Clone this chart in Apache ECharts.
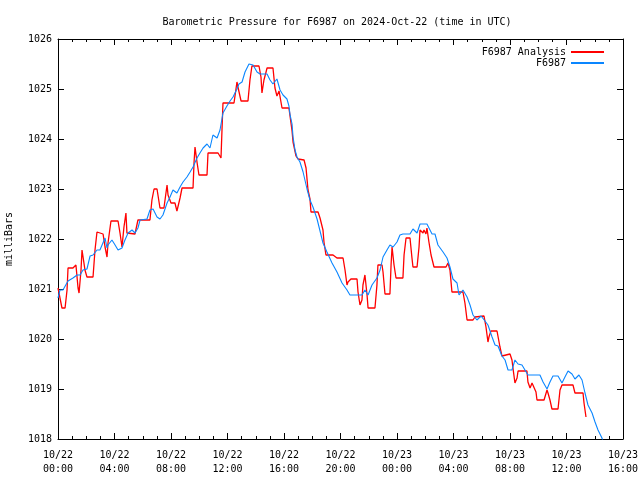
<!DOCTYPE html>
<html><head><meta charset="utf-8">
<script src="https://cdn.jsdelivr.net/npm/echarts@6/dist/echarts.min.js"></script>
<style>html,body{margin:0;padding:0;background:#fff}#c{width:640px;height:480px}</style>
</head><body><div id="c"></div>
<script>
// hours since 2024-10-22 00:00 UTC
const analysisHours = [0.00,0.14,0.28,0.50,0.64,0.71,1.06,1.27,1.35,1.42,1.49,1.63,1.70,1.77,1.91,2.05,2.48,2.62,2.76,3.19,3.33,3.47,3.54,3.75,4.25,4.39,4.53,4.67,4.81,4.88,5.45,5.66,6.51,6.65,6.80,7.01,7.22,7.50,7.72,7.79,8.00,8.28,8.42,8.64,8.78,9.56,9.63,9.70,9.84,9.98,10.55,10.62,11.33,11.54,11.61,11.68,12.46,12.67,12.74,12.96,13.45,13.59,13.73,14.23,14.37,14.44,14.58,14.73,14.80,15.22,15.36,15.50,15.65,15.79,15.86,16.35,16.57,16.64,16.85,16.99,17.42,17.56,17.70,17.84,17.91,18.41,18.55,18.76,18.83,18.97,19.47,19.75,20.18,20.32,20.46,20.53,20.74,21.17,21.24,21.38,21.52,21.59,21.73,21.88,21.95,22.44,22.58,22.65,22.94,23.01,23.15,23.50,23.58,23.65,23.79,23.93,24.42,24.50,24.64,24.92,25.06,25.13,25.42,25.56,25.63,25.84,25.91,26.05,26.12,26.26,26.41,26.62,27.47,27.61,27.75,27.89,28.32,28.46,28.67,28.81,28.96,29.38,29.52,30.16,30.30,30.44,30.51,30.65,31.08,31.15,31.29,31.43,32.00,32.14,32.21,32.35,32.50,32.57,33.20,33.27,33.42,33.56,33.70,33.84,33.91,34.41,34.62,34.69,34.83,34.97,35.40,35.54,35.68,36.46,36.60,37.17,37.24,37.38];
const analysisMb = [1021.02,1020.98,1020.62,1020.62,1020.98,1021.42,1021.42,1021.48,1021.48,1021.02,1020.92,1021.38,1021.78,1021.78,1021.38,1021.24,1021.24,1021.78,1022.14,1022.10,1021.84,1021.64,1021.92,1022.36,1022.36,1022.12,1021.84,1022.24,1022.52,1022.12,1022.10,1022.38,1022.38,1022.78,1023.00,1023.00,1022.62,1022.62,1023.08,1022.88,1022.72,1022.72,1022.56,1022.82,1023.02,1023.02,1023.52,1023.84,1023.54,1023.28,1023.28,1023.72,1023.72,1023.62,1024.18,1024.72,1024.72,1025.14,1025.04,1024.76,1024.76,1025.18,1025.46,1025.46,1025.24,1024.92,1025.18,1025.34,1025.42,1025.42,1025.02,1024.86,1024.96,1024.94,1024.62,1024.62,1024.16,1023.94,1023.66,1023.60,1023.58,1023.42,1022.98,1022.80,1022.54,1022.54,1022.42,1022.18,1021.94,1021.68,1021.68,1021.62,1021.62,1021.38,1021.08,1021.14,1021.20,1021.20,1020.94,1020.68,1020.78,1021.08,1021.28,1020.88,1020.62,1020.62,1021.08,1021.48,1021.48,1021.34,1020.90,1020.90,1021.48,1021.84,1021.48,1021.22,1021.22,1021.68,1022.02,1022.02,1021.62,1021.44,1021.44,1021.84,1022.18,1022.12,1022.18,1022.10,1022.22,1021.94,1021.68,1021.44,1021.44,1021.52,1021.38,1020.94,1020.94,1020.96,1020.94,1020.72,1020.38,1020.38,1020.44,1020.46,1020.24,1019.94,1020.04,1020.16,1020.16,1020.12,1019.84,1019.66,1019.70,1019.58,1019.42,1019.12,1019.22,1019.36,1019.36,1019.14,1019.02,1019.12,1019.12,1018.94,1018.78,1018.78,1018.98,1018.92,1018.78,1018.60,1018.60,1018.98,1019.08,1019.08,1018.92,1018.92,1018.72,1018.44];
const stationHours = [0.00,0.14,0.35,0.71,1.06,1.35,1.56,1.77,2.05,2.27,2.48,2.76,2.97,3.33,3.47,3.54,3.82,4.04,4.25,4.53,4.74,4.96,5.24,5.45,5.66,5.81,6.30,6.51,6.73,7.01,7.22,7.43,7.72,7.93,8.14,8.42,8.64,8.85,9.13,9.35,9.56,9.84,10.05,10.27,10.55,10.76,10.97,11.26,11.47,11.68,11.96,12.18,12.39,12.67,12.81,13.03,13.24,13.52,13.81,14.09,14.30,14.80,15.01,15.22,15.50,15.72,15.93,16.21,16.35,16.42,16.57,16.64,16.78,16.92,17.13,17.35,17.63,17.84,18.05,18.34,18.55,18.76,19.04,19.40,19.75,20.11,20.46,20.67,21.52,21.73,21.95,22.23,22.58,22.80,23.01,23.29,23.50,23.72,24.00,24.21,24.42,24.92,25.13,25.42,25.63,26.12,26.48,26.69,26.90,27.26,27.54,27.75,27.96,28.25,28.39,28.67,28.96,29.17,29.38,29.66,29.95,30.23,30.44,30.73,30.94,31.15,31.43,31.65,31.86,32.14,32.35,32.57,32.85,33.06,33.27,34.12,34.34,34.62,34.83,35.04,35.40,35.68,35.89,36.11,36.39,36.60,36.88,37.10,37.31,37.52,37.81,38.02,38.23,38.51,38.58];
const stationMb = [1020.82,1020.98,1020.98,1021.16,1021.22,1021.28,1021.28,1021.38,1021.40,1021.66,1021.68,1021.78,1021.78,1022.02,1021.82,1021.88,1021.98,1021.88,1021.78,1021.82,1021.98,1022.12,1022.18,1022.12,1022.22,1022.38,1022.40,1022.58,1022.60,1022.44,1022.40,1022.48,1022.72,1022.84,1022.98,1022.92,1023.04,1023.14,1023.24,1023.34,1023.44,1023.62,1023.72,1023.82,1023.90,1023.82,1024.08,1024.02,1024.18,1024.52,1024.66,1024.76,1024.84,1025.00,1025.10,1025.14,1025.34,1025.50,1025.48,1025.34,1025.30,1025.30,1025.18,1025.10,1025.20,1024.98,1024.88,1024.80,1024.66,1024.50,1024.30,1024.04,1023.78,1023.64,1023.54,1023.34,1023.00,1022.78,1022.64,1022.40,1022.16,1021.92,1021.74,1021.52,1021.34,1021.12,1020.98,1020.88,1020.88,1020.98,1020.88,1021.08,1021.22,1021.38,1021.64,1021.78,1021.88,1021.84,1021.94,1022.08,1022.10,1022.10,1022.20,1022.12,1022.30,1022.30,1022.10,1022.10,1021.88,1021.74,1021.62,1021.44,1021.20,1021.12,1020.88,1020.98,1020.84,1020.68,1020.48,1020.38,1020.46,1020.36,1020.28,1020.04,1019.88,1019.86,1019.66,1019.58,1019.38,1019.38,1019.58,1019.50,1019.48,1019.38,1019.28,1019.28,1019.14,1019.00,1019.14,1019.26,1019.26,1019.12,1019.24,1019.36,1019.30,1019.20,1019.28,1019.18,1018.92,1018.68,1018.52,1018.34,1018.18,1018.02,1017.96];
const dayLabels = ['10/22', '10/23'];
const seriesNames = ['F6987 Analysis', 'F6987'];
const titleText = 'Barometric Pressure for F6987 on 2024-Oct-22 (time in UTC)';
const yTitle = 'milliBars';

const FONT = 'DejaVu Sans Mono';
const zip = (a, b) => a.map((v, i) => [v, b[i]]);
const fmtX = v => {
  const d = Math.floor(v / 24), h = v % 24;
  return dayLabels[Math.min(d, dayLabels.length - 1)] + '\n' + String(h).padStart(2, '0') + ':00';
};
const chart = echarts.init(document.getElementById('c'), null, {renderer: 'canvas'});
const xBase = {
  type: 'value', min: 0, max: 40, interval: 4,
  axisLine: {show: true, onZero: false, lineStyle: {color: '#000', width: 1}},
  axisTick: {show: true, inside: true, length: 6, lineStyle: {color: '#000'}},
  minorTick: {show: true, splitNumber: 4, length: 3, lineStyle: {color: '#000'}},
  splitLine: {show: false}
};
const yBase = {
  type: 'value', min: 1018, max: 1026, interval: 1,
  axisLine: {show: true, onZero: false, lineStyle: {color: '#000', width: 1}},
  axisTick: {show: true, inside: true, length: 6, lineStyle: {color: '#000'}},
  splitLine: {show: false}
};
chart.setOption({
  animation: false,
  backgroundColor: '#fff',
  title: {
    text: titleText, left: 332, top: 12, textAlign: 'center',
    textStyle: {fontFamily: FONT, fontSize: 10, fontWeight: 'normal', color: '#000'}
  },
  legend: {
    orient: 'vertical', right: 30, top: 42, align: 'right', itemGap: 1,
    itemWidth: 33, itemHeight: 12, itemStyle: {opacity: 0},
    textStyle: {fontFamily: FONT, fontSize: 10, color: '#000'},
    data: seriesNames
  },
  grid: {left: 58, right: 17, top: 39, bottom: 41, containLabel: false, outerBoundsMode: 'none'},
  xAxis: [
    Object.assign({}, xBase, {
      position: 'bottom',
      axisLabel: {fontFamily: FONT, fontSize: 10, color: '#000', margin: 9, lineHeight: 14, formatter: fmtX}
    }),
    Object.assign({}, xBase, {position: 'top', axisLabel: {show: false}})
  ],
  yAxis: [
    Object.assign({}, yBase, {
      position: 'left',
      name: yTitle, nameLocation: 'middle', nameGap: 44, nameRotate: 90,
      nameTextStyle: {fontFamily: FONT, fontSize: 10, color: '#000'},
      axisLabel: {fontFamily: FONT, fontSize: 10, color: '#000', margin: 6, formatter: v => String(v)}
    }),
    Object.assign({}, yBase, {position: 'right', axisLabel: {show: false}})
  ],
  series: [
    {
      name: seriesNames[0], type: 'line', data: zip(analysisHours, analysisMb),
      showSymbol: false, symbol: 'none', clip: true,
      lineStyle: {color: '#ff0000', width: 1.3}, itemStyle: {color: '#ff0000'}
    },
    {
      name: seriesNames[1], type: 'line', data: zip(stationHours, stationMb),
      showSymbol: false, symbol: 'none', clip: true,
      lineStyle: {color: '#0a86ff', width: 1.1}, itemStyle: {color: '#0a86ff'}
    }
  ]
});
</script></body></html>
